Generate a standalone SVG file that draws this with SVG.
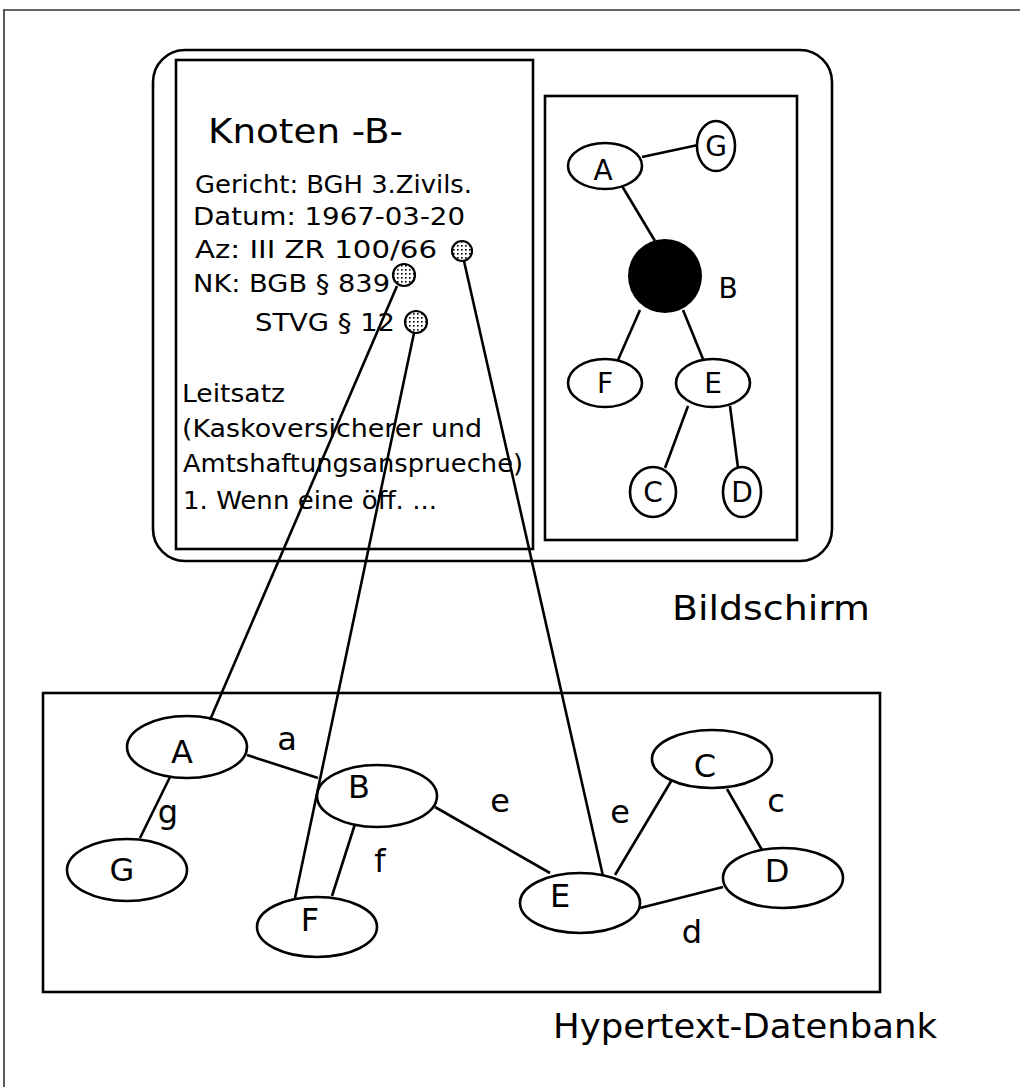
<svg xmlns="http://www.w3.org/2000/svg" width="1020" height="1087" viewBox="0 0 1020 1087">
<style>
  .ln { stroke: #000; stroke-width: 2.6; fill: none; }
  .nd { stroke: #000; stroke-width: 2.6; fill: #fff; }
  .t { font-family: "DejaVu Sans", "Liberation Sans", sans-serif; fill: #000; }
  .txt { font-size: 24px; }
  .big { font-size: 34px; }
  .sm { font-size: 28px; text-anchor: middle; }
  .db { font-size: 32px; text-anchor: middle; }
  .el { font-size: 32px; text-anchor: middle; }
</style>
<defs>
  <pattern id="dots" width="4" height="4" patternUnits="userSpaceOnUse">
    <rect width="4" height="4" fill="#fff"/>
    <rect x="1" y="1" width="1.6" height="1.6" fill="#000"/>
  </pattern>
</defs>
<rect width="1020" height="1087" fill="#fff"/>
<!-- outer frame -->
<g id="frame">
  <line x1="3" y1="10" x2="1020" y2="10" stroke="#333" stroke-width="1.6"/>
  <line x1="4" y1="10" x2="4" y2="1087" stroke="#333" stroke-width="1.6"/>
</g>
<!-- Bildschirm -->
<g id="bildschirm">
  <rect x="153" y="50" width="679" height="511" rx="32" ry="32" class="ln" stroke-width="2.8"/>
  <text class="t big" x="672" y="620" textLength="198" lengthAdjust="spacingAndGlyphs">Bildschirm</text>
</g>
<g id="textpanel">
  <rect x="176" y="60" width="357" height="489" class="ln" stroke-width="2.8"/>
  <text class="t big" x="208" y="143" textLength="195" lengthAdjust="spacingAndGlyphs">Knoten -B-</text>
  <text class="t txt" x="195" y="193" textLength="277" lengthAdjust="spacingAndGlyphs">Gericht: BGH 3.Zivils.</text>
  <text class="t txt" x="193" y="225" textLength="272" lengthAdjust="spacingAndGlyphs">Datum: 1967-03-20</text>
  <text class="t txt" x="195" y="258" textLength="242" lengthAdjust="spacingAndGlyphs">Az: III ZR 100/66</text>
  <text class="t txt" x="193" y="292" textLength="197" lengthAdjust="spacingAndGlyphs">NK: BGB § 839</text>
  <text class="t txt" x="255" y="331" textLength="140" lengthAdjust="spacingAndGlyphs">STVG § 12</text>
  <text class="t txt" x="182" y="402" textLength="103" lengthAdjust="spacingAndGlyphs">Leitsatz</text>
  <text class="t txt" x="182" y="437" textLength="300" lengthAdjust="spacingAndGlyphs">(Kaskoversicherer und</text>
  <text class="t txt" x="183" y="472" textLength="340" lengthAdjust="spacingAndGlyphs">Amtshaftungsansprueche)</text>
  <text class="t txt" x="183" y="509" textLength="254" lengthAdjust="spacingAndGlyphs">1. Wenn eine öff. ...</text>
  <circle cx="462" cy="251" r="10" stroke="#000" stroke-width="2.2" fill="url(#dots)"/>
  <circle cx="404" cy="275" r="11" stroke="#000" stroke-width="2.2" fill="url(#dots)"/>
  <circle cx="416" cy="322" r="11" stroke="#000" stroke-width="2.2" fill="url(#dots)"/>
</g>
<!-- right graph panel -->
<g id="graphpanel">
  <rect x="545" y="96" width="252" height="444" class="ln" stroke-width="2.8"/>
  <g class="ln">
    <line x1="642" y1="157" x2="698" y2="145"/>
    <line x1="622" y1="186" x2="655" y2="241"/>
    <line x1="640" y1="310" x2="618" y2="360"/>
    <line x1="683" y1="310" x2="703" y2="359"/>
    <line x1="688" y1="406" x2="665" y2="468"/>
    <line x1="730" y1="406" x2="738" y2="468"/>
  </g>
  <g id="p-A"><ellipse cx="605" cy="166" rx="37" ry="23" class="nd"/><text class="t sm" x="603" y="180">A</text></g>
  <g id="p-G"><ellipse cx="716" cy="146" rx="19" ry="25" class="nd"/><text class="t sm" x="716" y="156">G</text></g>
  <g id="p-B"><circle cx="665" cy="276" r="37" fill="#000"/><text class="t sm" x="728" y="298" font-size="32">B</text></g>
  <g id="p-F"><ellipse cx="605" cy="383" rx="37" ry="24" class="nd"/><text class="t sm" x="605" y="393">F</text></g>
  <g id="p-E"><ellipse cx="713" cy="383" rx="37" ry="24" class="nd"/><text class="t sm" x="713" y="393">E</text></g>
  <g id="p-C"><ellipse cx="653" cy="492" rx="23" ry="25" class="nd"/><text class="t sm" x="653" y="502">C</text></g>
  <g id="p-D"><ellipse cx="742" cy="492" rx="19" ry="25" class="nd"/><text class="t sm" x="742" y="502">D</text></g>
</g>
<!-- Hypertext-Datenbank -->
<g id="datenbank">
  <rect x="43" y="693" width="837" height="299" class="ln" stroke-width="3.2"/>
  <text class="t big" x="553" y="1038" textLength="384" lengthAdjust="spacingAndGlyphs">Hypertext-Datenbank</text>
</g>
<g id="db-edges" class="ln">
  <line x1="247" y1="755" x2="318" y2="778"/>
  <line x1="170" y1="777" x2="140" y2="838"/>
  <line x1="355" y1="824" x2="332" y2="896"/>
  <line x1="435" y1="807" x2="550" y2="873"/>
  <line x1="615" y1="875" x2="673" y2="778"/>
  <line x1="727" y1="789" x2="762" y2="850"/>
  <line x1="640" y1="908" x2="723" y2="887"/>
</g>
<g id="db-A"><ellipse cx="187" cy="747" rx="60" ry="31" class="nd" fill="none"/><text class="t db" x="182" y="763">A</text></g>
<g id="db-G"><ellipse cx="127" cy="870" rx="60" ry="31" class="nd"/><text class="t db" x="122" y="881">G</text></g>
<g id="db-B"><ellipse cx="377" cy="796" rx="60" ry="31" class="nd"/><text class="t db" x="359" y="798">B</text></g>
<g id="db-F"><ellipse cx="317" cy="927" rx="60" ry="30" class="nd"/><text class="t db" x="310" y="931">F</text></g>
<g id="db-E"><ellipse cx="580" cy="903" rx="60" ry="30" class="nd"/><text class="t db" x="560" y="907">E</text></g>
<g id="db-C"><ellipse cx="712" cy="759" rx="60" ry="29" class="nd"/><text class="t db" x="705" y="777">C</text></g>
<g id="db-D"><ellipse cx="783" cy="878" rx="60" ry="30" class="nd"/><text class="t db" x="777" y="882">D</text></g>
<g id="edge-labels">
  <text class="t el" x="287" y="750">a</text>
  <text class="t el" x="168" y="823">g</text>
  <text class="t el" x="380" y="872">f</text>
  <text class="t el" x="500" y="812">e</text>
  <text class="t el" x="620" y="823">e</text>
  <text class="t el" x="776" y="812">c</text>
  <text class="t el" x="692" y="943">d</text>
</g>
<!-- cross connectors from Bildschirm to Datenbank -->
<g id="connectors" class="ln">
  <line x1="464" y1="261" x2="603" y2="876"/>
  <line x1="397" y1="286" x2="210" y2="720"/>
  <line x1="414" y1="333" x2="295" y2="898"/>
</g>
</svg>
